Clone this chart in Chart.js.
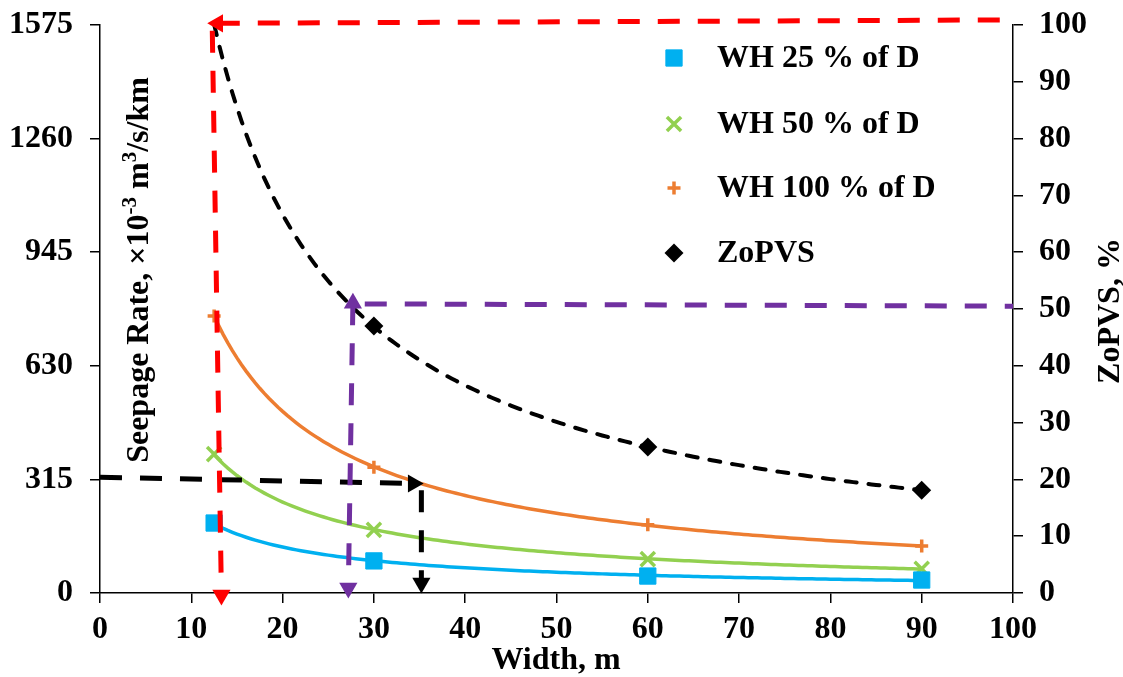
<!DOCTYPE html>
<html><head><meta charset="utf-8">
<script src="https://cdn.jsdelivr.net/npm/chart.js@4/dist/chart.umd.min.js"></script>
<style>html,body{margin:0;padding:0;background:#fff}#wrap{width:1123px;height:677px;position:relative}</style>
</head><body><div id="wrap"><canvas id="c"></canvas></div>
<script>
// ---- data ----
const widths = [12.5, 30, 60, 90];
const wh25 = [194, 89, 47, 36];
const wh50 = [385, 175, 94, 67];
const wh100 = [768, 349, 189, 130];
const zopvs = [100, 47, 25.7, 18.1];
const seriesNames = ['WH 25 % of D', 'WH 50 % of D', 'WH 100 % of D', 'ZoPVS'];
const xTickStep = 10, xMin = 0, xMax = 100;
const leftTickStep = 315, leftMax = 1575;
const rightTickStep = 10, rightMax = 100;
const xTitle = 'Width, m';
const rightTitle = 'ZoPVS, %';
const leftTitleParts = [['Seepage Rate, ×10', false], ['-3', true], [' m', false], ['3', true], ['/s/km', false]];
// guide arrows (data coordinates)
const redGuideH = [{x: 12.9, y: 100.3}, {x: 100, y: 100.9}];       // right axis
const redGuideV = [{x: 12.3, y: 99.0}, {x: 13.3, y: -0.35}];       // right axis
const purpleGuideH = [{x: 29, y: 50.9}, {x: 100, y: 50.5}];        // right axis
const purpleGuideV = [{x: 27.7, y: 51.0}, {x: 27.2, y: 0.9}];      // right axis
const blackGuideH = [{x: 0, y: 321}, {x: 34.3, y: 303.6}];         // left axis
const blackGuideV = [{x: 35.2, y: 285}, {x: 35.2, y: 27.7}];       // left axis

const FONT = '"Liberation Serif", "Times New Roman", serif';
const COLORS = {blue: '#00B0F0', green: '#92D050', orange: '#ED7D31', black: '#000000', red: '#FF0000', purple: '#7030A0'};

// power-law trendline (least squares in log space), like the spreadsheet trendlines
function powerTrend(xs, ys) {
  const n = xs.length;
  let sx = 0, sy = 0, sxx = 0, sxy = 0;
  for (let i = 0; i < n; i++) {
    const lx = Math.log(xs[i]), ly = Math.log(ys[i]);
    sx += lx; sy += ly; sxx += lx * lx; sxy += lx * ly;
  }
  const b = (n * sxy - sx * sy) / (n * sxx - sx * sx);
  const a = Math.exp((sy - b * sx) / n);
  const pts = [];
  for (let x = xs[0]; x <= xs[n - 1] + 1e-9; x += 0.5) pts.push({x: x, y: a * Math.pow(x, b)});
  return pts;
}
const pairs = (xs, ys) => xs.map((x, i) => ({x: x, y: ys[i]}));

function guide(data, color, axis, arrows) {
  return {
    type: 'line', data: data, yAxisID: axis, borderColor: color, backgroundColor: color,
    borderWidth: 5, borderDash: [22, 18], fill: false, tension: 0,
    pointStyle: 'triangle', pointRadius: arrows.map(a => a === null ? 0 : 10.5),
    pointRotation: arrows.map(a => a === null ? 0 : a), pointBorderWidth: 0,
    pointHoverRadius: 0, clip: false
  };
}
function markers(label, ys, color, style, radius, bw, axis) {
  return {
    type: 'line', label: label, data: pairs(widths, ys), yAxisID: axis, showLine: false,
    pointStyle: style, pointRadius: radius, pointHoverRadius: 0,
    backgroundColor: color, borderColor: color, pointBorderWidth: bw, clip: false
  };
}
function trendDs(ys, color, axis, dash, width) {
  return {
    type: 'line', data: powerTrend(widths, ys), yAxisID: axis, borderColor: color,
    borderWidth: width, borderDash: dash || [], borderCapStyle: dash ? 'round' : 'butt',
    pointRadius: 0, pointHoverRadius: 0, fill: false, tension: 0
  };
}

const markerSets = [
  markers(seriesNames[0], wh25, COLORS.blue, 'rect', 11.5, 1, 'y'),
  markers(seriesNames[1], wh50, COLORS.green, 'crossRot', 10, 3.5, 'y'),
  markers(seriesNames[2], wh100, COLORS.orange, 'cross', 6.5, 3.5, 'y'),
  markers(seriesNames[3], zopvs, COLORS.black, 'rectRot', 9.5, 0, 'y2')
];
const legendRadius = markerSets.map(ds => ds.pointRadius);
// the first ZoPVS point sits under the red arrowhead in the reference
markerSets[3].pointRadius = zopvs.map((v, i) => i === 0 ? 0 : 9.5);

const datasets = [
  guide(redGuideH, COLORS.red, 'y2', [270, null]),
  guide(redGuideV, COLORS.red, 'y2', [null, 180]),
  guide(purpleGuideV, COLORS.purple, 'y2', [0, 180]),
  guide(purpleGuideH, COLORS.purple, 'y2', [null, null]),
  guide(blackGuideH, COLORS.black, 'y', [null, 90]),
  guide(blackGuideV, COLORS.black, 'y', [null, 180]),
  ...markerSets,
  trendDs(wh25, COLORS.blue, 'y', null, 3.5),
  trendDs(wh50, COLORS.green, 'y', null, 3.5),
  trendDs(wh100, COLORS.orange, 'y', null, 3.5),
  trendDs(zopvs, COLORS.black, 'y2', [11, 12], 4)
];

const tickFont = {family: FONT, size: 32, weight: 'bold'};
const axisGrid = {drawOnChartArea: false, drawTicks: true, tickLength: 10, color: '#000', lineWidth: 1.5};
const axisBorder = {display: true, color: '#000', width: 1.5};
const plain = v => String(v);

const overlay = {
  id: 'overlay',
  afterDraw(chart) {
    const ctx = chart.ctx;
    ctx.save();
    ctx.fillStyle = '#000';
    ctx.font = 'bold 32px ' + FONT;
    // x title
    ctx.textAlign = 'center'; ctx.textBaseline = 'alphabetic';
    ctx.fillText(xTitle, 556, 669);
    // right title
    ctx.save();
    ctx.translate(1119, 311); ctx.rotate(-Math.PI / 2);
    ctx.fillText(rightTitle, 0, 0);
    ctx.restore();
    // left title with superscripts
    const big = 'bold 32px ' + FONT, small = 'bold 21px ' + FONT;
    let total = 0;
    leftTitleParts.forEach(p => { ctx.font = p[1] ? small : big; total += ctx.measureText(p[0]).width; });
    ctx.save();
    ctx.translate(148, 270); ctx.rotate(-Math.PI / 2);
    ctx.textAlign = 'left';
    let xx = -total / 2;
    leftTitleParts.forEach(p => {
      ctx.font = p[1] ? small : big;
      ctx.fillText(p[0], xx, p[1] ? -12 : 0);
      xx += ctx.measureText(p[0]).width;
    });
    ctx.restore();
    // legend
    const rows = [58, 124, 188, 253];
    markerSets.forEach((ds, i) => {
      const y = rows[i];
      ctx.fillStyle = ds.backgroundColor; ctx.strokeStyle = ds.borderColor;
      ctx.lineWidth = ds.pointBorderWidth;
      Chart.helpers.drawPoint(ctx, {pointStyle: ds.pointStyle, radius: legendRadius[i], rotation: 0, borderWidth: ds.pointBorderWidth}, 674, y);
      ctx.fillStyle = '#000';
      ctx.font = big; ctx.textAlign = 'left'; ctx.textBaseline = 'middle';
      ctx.fillText(ds.label, 717, y + 1);
    });
    ctx.restore();
  }
};

new Chart(document.getElementById('c'), {
  type: 'line',
  data: {datasets: datasets},
  options: {
    responsive: true, maintainAspectRatio: false, animation: false,
    layout: {padding: {top: 25, left: 0, right: 0, bottom: 0}},
    plugins: {legend: {display: false}, tooltip: {enabled: false}},
    scales: {
      x: {
        type: 'linear', position: 'bottom', min: xMin, max: xMax,
        ticks: {stepSize: xTickStep, font: tickFont, color: '#000', padding: 8, maxRotation: 0, callback: plain},
        grid: axisGrid, border: axisBorder,
        afterFit(s) { s.height = 84; s.paddingLeft = 0; s.paddingRight = 0; }
      },
      y: {
        type: 'linear', position: 'left', min: 0, max: leftMax,
        ticks: {stepSize: leftTickStep, font: tickFont, color: '#000', padding: 17, callback: plain},
        grid: axisGrid, border: axisBorder,
        afterFit(s) { s.width = 100; s.paddingTop = 0; s.paddingBottom = 0; }
      },
      y2: {
        type: 'linear', position: 'right', min: 0, max: rightMax,
        ticks: {stepSize: rightTickStep, font: tickFont, color: '#000', padding: 16, callback: plain},
        grid: axisGrid, border: axisBorder,
        afterFit(s) { s.width = 110; s.paddingTop = 0; s.paddingBottom = 0; }
      }
    }
  },
  plugins: [overlay]
});
</script>
</body></html>
